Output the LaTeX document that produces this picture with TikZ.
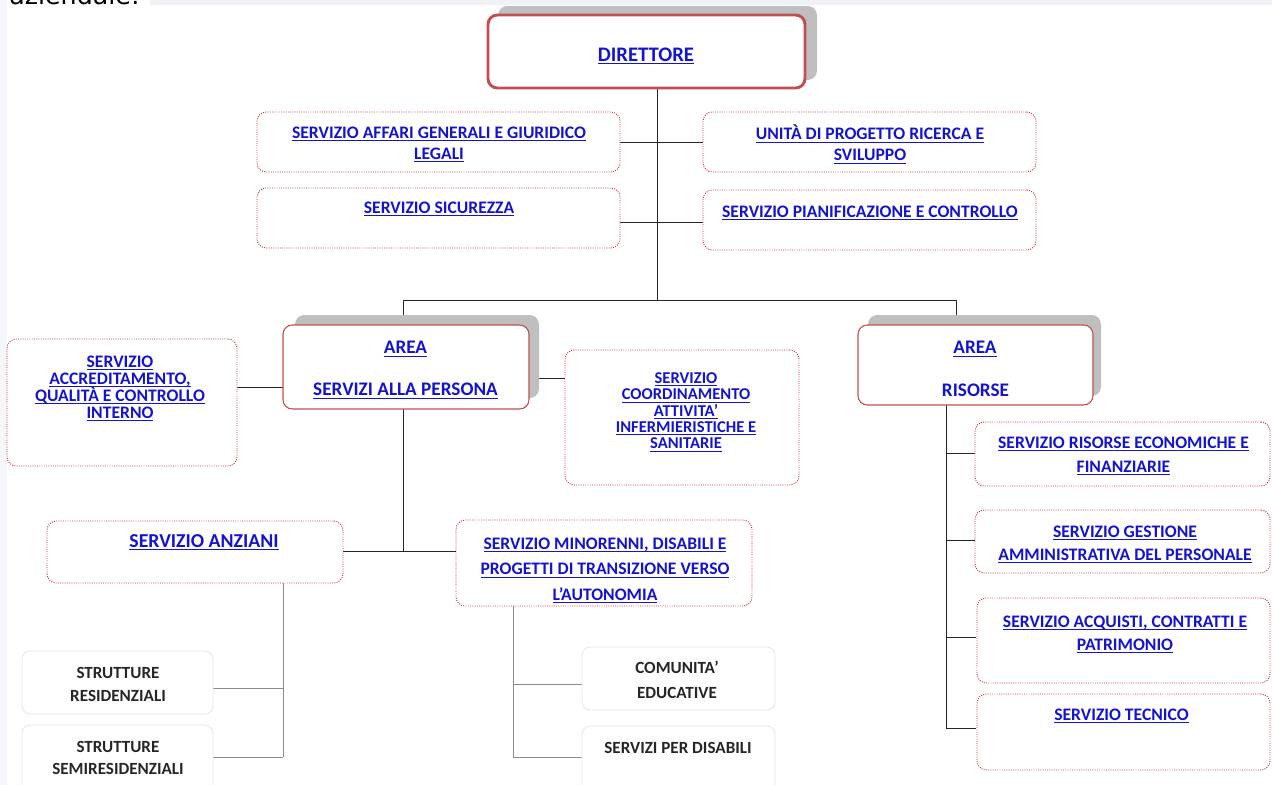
\documentclass[tikz,border=0pt]{standalone}
\usepackage{fontspec}
\setmainfont{Carlito}
\newfontfamily\topfont{DejaVu Sans}
\usetikzlibrary{fit}
\definecolor{lnk}{RGB}{20,20,205}
\definecolor{redb}{RGB}{192,80,77}
\definecolor{dotr}{RGB}{205,50,50}
\definecolor{shad}{RGB}{191,191,191}
\definecolor{band}{RGB}{238,242,246}
\definecolor{strip}{RGB}{245,247,250}
\newcommand{\lu}[1]{\setbox0\hbox{#1}\rlap{\rule[-2.1pt]{\wd0}{0.65pt}}\box0}
\newcommand{\fs}[2]{\bfseries\fontsize{#1}{#2}\selectfont\lineskiplimit=-100pt\relax}
\begin{document}
\begin{tikzpicture}[x=0.75pt,y=-0.75pt,
  box/.style={inner sep=0pt, rounded corners=7pt},
  dotbox/.style={box, draw=dotr, densely dotted, line width=0.7pt, fill=white},
  areabox/.style={box, draw=redb, line width=0.8pt, fill=white},
  dirbox/.style={box, draw=redb, line width=2.2pt, fill=white},
  shadowbox/.style={box, fill=shad},
  subbox/.style={box, draw=black!10, line width=0.6pt, fill=white, rounded corners=6pt},
  lnk/.style={inner sep=0pt, align=center, text=lnk, font=\fs{13.2}{#1}},
  blk/.style={inner sep=0pt, align=center, text=black!85, font=\fs{12.8}{#1}},
  conn/.style={draw=black!85, line width=0.6pt},
  subconn/.style={draw=black!45, line width=0.6pt}]
\useasboundingbox (0,0) rectangle (1272,785);
% screenshot residue
\fill[strip] (0,0) rectangle (7,785);
\fill[band] (150,0) rectangle (1272,5);
\node[anchor=base west, inner sep=0pt, font=\topfont\fontsize{19}{20}\selectfont] (azt) at (9,4.5) {aziendale:};

% connectors
\coordinate (trunk) at (657,300);
\coordinate (bl) at (403,300);
\coordinate (br) at (956,300);
\coordinate (jA) at (403,551);
\draw[conn] (657,88) -- (trunk);
\draw[conn] (bl) -- (br);
\draw[conn] (620,142) -- (703,142);
\draw[conn] (620,222) -- (703,222);
\draw[conn] (bl) -- (403,325);
\draw[conn] (br) -- (956,325);
\draw[conn] (237,387) -- (283,387);
\draw[conn] (529,378) -- (565,378);
\draw[conn] (403,409) -- (jA);
\draw[conn] (343,551) -- (456,551);
\draw[conn] (946,405) -- (946,728);
\foreach \yy in {453,540,637,728} \draw[conn] (946,\yy) -- (976,\yy);
\draw[subconn] (283,583) -- (283,757);
\draw[subconn] (213,688) -- (283,688);
\draw[subconn] (213,757) -- (283,757);
\draw[subconn] (513,606) -- (513,757);
\draw[subconn] (513,684) -- (582,684);
\draw[subconn] (513,757) -- (582,757);

% director
\node[shadowbox, fit={(498,6) (817,80)}] (dirs) {};
\node[dirbox, fit={(488,15) (805,88)}] (dir) {};
\node[lnk=18, font=\fs{15.5}{18}] (dirt) at (646,56) {\lu{DIRETTORE}};

% staff
\node[dotbox, fit={(257,112) (620,172)}] (agl) {};
\node[lnk=15.75] (aglt) at (439,144.5) {\lu{SERVIZIO AFFARI GENERALI E GIURIDICO}\\\lu{LEGALI}};
\node[dotbox, fit={(257,188) (620,248)}] (sic) {};
\node[lnk=15.75] (sict) at (439,209) {\lu{SERVIZIO SICUREZZA}};
\node[dotbox, fit={(703,112) (1036,172)}] (upr) {};
\node[lnk=15.75] (uprt) at (870,144.5) {\lu{UNITÀ DI PROGETTO RICERCA E}\\\lu{SVILUPPO}};
\node[dotbox, fit={(703,190) (1036,250)}] (pia) {};
\node[lnk=15.75] (piat) at (870,213) {\lu{SERVIZIO PIANIFICAZIONE E CONTROLLO}};

% areas
\node[shadowbox, fit={(295,315) (539,398)}] (pers) {};
\node[areabox, fit={(283,325) (529,409)}] (per) {};
\node[lnk=18, font=\fs{14.4}{18}] (pert1) at (405.5,349) {\lu{AREA}};
\node[lnk=18, font=\fs{14.4}{18}] (pert2) at (405.5,391) {\lu{SERVIZI ALLA PERSONA}};
\node[shadowbox, fit={(868,315) (1101,396)}] (riss) {};
\node[areabox, fit={(858,325) (1093,405)}] (ris) {};
\node[lnk=18, font=\fs{14.4}{18}] (rist1) at (975,349) {\lu{AREA}};
\node[lnk=18, font=\fs{14.4}{18}] (rist2) at (975.5,390) {RISORSE};

% persona staff
\node[dotbox, fit={(7,339) (237,466)}] (acc) {};
\node[lnk=12.75] (acct) at (120,388.5) {\lu{SERVIZIO}\\\lu{ACCREDITAMENTO,}\\\lu{QUALITÀ E CONTROLLO}\\\lu{INTERNO}};
\node[dotbox, fit={(565,350) (799,485)}] (coo) {};
\node[lnk=12.3, font=\fs{12.4}{12.3}] (coot) at (686,412) {\lu{SERVIZIO}\\\lu{COORDINAMENTO}\\\lu{ATTIVITA’}\\\lu{INFERMIERISTICHE E}\\\lu{SANITARIE}};

% services
\node[dotbox, fit={(47,521) (343,583)}] (anz) {};
\node[lnk=18, font=\fs{14.8}{18}] (anzt) at (204,542) {\lu{SERVIZIO ANZIANI}};
\node[dotbox, fit={(456,520) (752,606)}] (min) {};
\node[lnk=19] (mint) at (605,570.5) {\lu{SERVIZIO MINORENNI, DISABILI E}\\\lu{PROGETTI DI TRANSIZIONE VERSO}\\\lu{L’AUTONOMIA}};

% sub structures
\node[subbox, fit={(22,651) (213,714)}] (res) {};
\node[blk=17.25] (rest) at (118,684) {STRUTTURE\\RESIDENZIALI};
\node[subbox, fit={(22,725) (213,800)}] (sem) {};
\node[blk=16.5] (semt) at (118,758) {STRUTTURE\\SEMIRESIDENZIALI};
\node[subbox, fit={(582,647) (775,710)}] (com) {};
\node[blk=18.5] (comt) at (677,680) {COMUNITA’\\EDUCATIVE};
\node[subbox, fit={(582,726) (775,800)}] (dis) {};
\node[blk=18] (dist) at (678,748) {SERVIZI PER DISABILI};

% risorse services
\node[dotbox, fit={(975,422) (1270,486)}] (ref) {};
\node[lnk=18] (reft) at (1123.5,456) {\lu{SERVIZIO RISORSE ECONOMICHE E}\\\lu{FINANZIARIE}};
\node[dotbox, fit={(975,510) (1270,573)}] (ges) {};
\node[lnk=17.25] (gest) at (1125,544.5) {\lu{SERVIZIO GESTIONE}\\\lu{AMMINISTRATIVA DEL PERSONALE}};
\node[dotbox, fit={(977,598) (1270,683)}] (acq) {};
\node[lnk=17.25] (acqt) at (1125,634.5) {\lu{SERVIZIO ACQUISTI, CONTRATTI E}\\\lu{PATRIMONIO}};
\node[dotbox, fit={(977,694) (1270,770)}] (tec) {};
\node[lnk=18] (tect) at (1121.5,716) {\lu{SERVIZIO TECNICO}};
\end{tikzpicture}
\end{document}
